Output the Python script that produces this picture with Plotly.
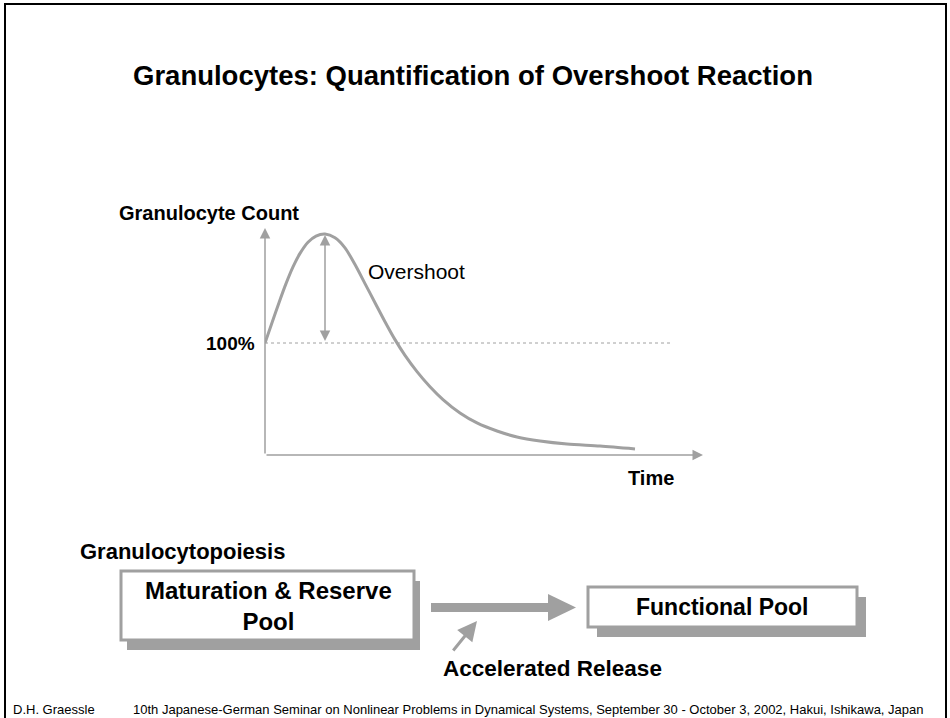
import plotly.graph_objects as go

# ---- data (curve) ----
time_vals = [0, 0.7, 1.4, 2.1, 2.8, 3.5, 4.3, 5.1, 6.0, 7.0, 8.0, 9.0, 10.0, 11.0, 12.0, 13.0,
             14.0, 15.2, 16.5, 17.8, 19.5, 21.2, 23.2, 25.2, 27.5, 30.2, 33.5, 37.0]
count_pct = [100, 118, 136, 153, 168, 180, 190, 195.5, 197.3, 194, 185, 170, 153, 136, 119, 103,
             89, 74.5, 61, 49.5, 37.5, 28.6, 21.4, 16.1, 12.5, 9.8, 8.0, 5.4]
baseline_pct = 100
peak_time = 6.0
peak_pct = 197

title_text = "Granulocytes: Quantification of Overshoot Reaction"
y_label = "Granulocyte Count"
x_label = "Time"
overshoot_label = "Overshoot"
section_label = "Granulocytopoiesis"
box1_label = "Maturation & Reserve<br>Pool"
box2_label = "Functional Pool"
release_label = "Accelerated Release"
footer_author = "D.H. Graessle"
footer_event = ("10th Japanese-German Seminar on Nonlinear Problems in Dynamical Systems, "
                "September 30 - October 3, 2002, Hakui, Ishikawa, Japan")

W, H = 950, 718
GRAY = "#a0a0a0"
FONT = "Liberation Sans, Arial, sans-serif"

# plot region (pixels)
px_left, px_right = 265, 705
px_bottom, px_top = 455, 228
x_max = 44.0
y_max = (px_bottom - px_top) / 112 * 100

fig = go.Figure()

fig.add_trace(go.Scatter(
    x=time_vals, y=count_pct, mode="lines",
    line=dict(color=GRAY, width=3, shape="spline", smoothing=0.8),
    xaxis="x2", yaxis="y2", hoverinfo="skip", showlegend=False))

# full-page pixel axes for layout decoration
fig.update_layout(
    width=W, height=H, margin=dict(l=0, r=0, t=0, b=0),
    paper_bgcolor="white", plot_bgcolor="rgba(0,0,0,0)",
    showlegend=False,
    xaxis=dict(range=[0, W], domain=[0, 1], visible=False, fixedrange=True),
    yaxis=dict(range=[H, 0], domain=[0, 1], visible=False, fixedrange=True),
    xaxis2=dict(range=[0, x_max], domain=[px_left / W, px_right / W], anchor="y2",
                visible=False, fixedrange=True),
    yaxis2=dict(range=[0, y_max], domain=[1 - px_bottom / H, 1 - px_top / H], anchor="x2",
                visible=False, fixedrange=True),
)

shapes = []
# page frame
shapes.append(dict(type="line", xref="x", yref="y", x0=5, y0=4, x1=5, y1=718, line=dict(color="black", width=2)))
shapes.append(dict(type="line", xref="x", yref="y", x0=4, y0=4, x1=947, y1=4, line=dict(color="black", width=2)))
shapes.append(dict(type="line", xref="x", yref="y", x0=946, y0=4, x1=946, y1=718, line=dict(color="black", width=2)))

# 100% dotted line
shapes.append(dict(type="line", xref="x2", yref="y2", x0=0, y0=baseline_pct, x1=40.5, y1=baseline_pct,
                   line=dict(color=GRAY, width=1, dash="dot")))

# boxes with shadows
def box(x0, y0, x1, y1, dx, dy):
    shapes.append(dict(type="rect", xref="x", yref="y", x0=x0 + dx, y0=y0 + dy, x1=x1 + dx, y1=y1 + dy,
                       fillcolor=GRAY, line=dict(width=0), layer="above"))
    shapes.append(dict(type="rect", xref="x", yref="y", x0=x0, y0=y0, x1=x1, y1=y1,
                       fillcolor="white", line=dict(color=GRAY, width=3), layer="above"))

box(121, 571, 414, 640, 6, 10)
box(588, 587, 857, 627, 9, 10)

# big release arrow
shapes.append(dict(type="rect", xref="x", yref="y", x0=431, y0=603, x1=549, y1=612,
                   fillcolor=GRAY, line=dict(width=0)))
shapes.append(dict(type="path", xref="x", yref="y", path="M 548 594 L 576 607.5 L 548 621 Z",
                   fillcolor=GRAY, line=dict(width=0)))

fig.update_layout(shapes=shapes)

ann = []
# axes arrows
ann.append(dict(xref="x2", yref="y2", axref="x2", ayref="y2", x=0, y=y_max, ax=0, ay=0,
                showarrow=True, arrowhead=2, arrowsize=1.4, arrowwidth=1.5, arrowcolor=GRAY, text=""))
ann.append(dict(xref="x2", yref="y2", axref="x2", ayref="y2", x=43.8, y=0, ax=0, ay=0,
                showarrow=True, arrowhead=2, arrowsize=1.4, arrowwidth=1.5, arrowcolor=GRAY, text=""))
# overshoot double arrow
ann.append(dict(xref="x2", yref="y2", axref="x2", ayref="y2", x=peak_time, y=peak_pct - 0.5,
                ax=peak_time, ay=baseline_pct + 0.5, showarrow=True, arrowhead=2, startarrowhead=2,
                arrowside="end+start", arrowsize=1.4, startarrowsize=1.4, arrowwidth=1.5,
                arrowcolor=GRAY, text=""))
# small accelerated-release arrow
ann.append(dict(xref="x", yref="y", axref="x", ayref="y", x=477, y=621, ax=452, ay=652,
                showarrow=True, arrowhead=2, arrowsize=1.3, arrowwidth=3, arrowcolor=GRAY, text=""))

def txt(x, y, s, size, bold=True, xanchor="left", color="black", align="left"):
    ann.append(dict(xref="x", yref="y", x=x, y=y, text=f"<b>{s}</b>" if bold else s,
                    showarrow=False, xanchor=xanchor, yanchor="middle", align=align,
                    font=dict(family=FONT, size=size, color=color)))

txt(473, 75, title_text, 27.5, xanchor="center")
txt(117, 213, y_label, 20)
txt(257, 343, "100%", 19, xanchor="right")
txt(366, 271, overshoot_label, 21, bold=False)
txt(676, 478, x_label, 20, xanchor="right")
txt(78, 551, section_label, 22)
txt(268, 606, box1_label, 24, xanchor="center", align="center")
txt(722, 607, box2_label, 23, xanchor="center")
txt(441, 668, release_label, 22.5)
txt(11, 709, footer_author, 13, bold=False)
txt(131, 709, footer_event, 13, bold=False)

fig.update_layout(annotations=ann)

fig.write_html("out.html", config={"displayModeBar": False},
               post_script="document.body.style.margin='0px';document.body.style.overflow='hidden';")
